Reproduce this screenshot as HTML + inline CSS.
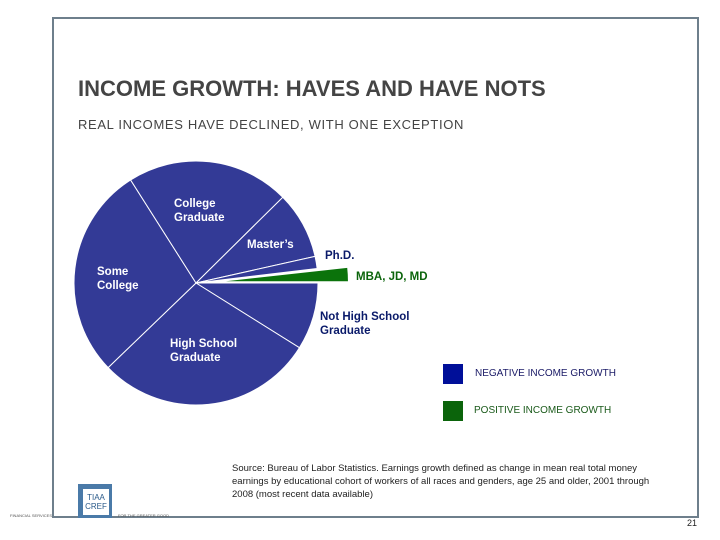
<!DOCTYPE html>
<html><head><meta charset="utf-8"><style>
body{margin:0;width:720px;height:540px;background:#fff;font-family:"Liberation Sans",sans-serif;position:relative;overflow:hidden}
.a{position:absolute;white-space:nowrap}
</style></head><body>
<div class="a" style="left:52px;top:17px;width:643px;height:497px;border:2px solid #6e7f8c"></div>
<div class="a" style="left:78px;top:76px;font-size:22px;font-weight:bold;color:#444">INCOME GROWTH: HAVES AND HAVE NOTS</div>
<div class="a" style="left:78px;top:117px;font-size:13px;letter-spacing:0.65px;color:#444">REAL INCOMES HAVE DECLINED, WITH ONE EXCEPTION</div>
<svg id="pie" class="a" style="left:0;top:0" width="720" height="540"></svg>
<div class="a" style="left:443px;top:364px;width:20px;height:20px;background:#000f99"></div>
<div class="a" style="left:475px;top:368px;font-size:10px;color:#1a1a66">NEGATIVE INCOME GROWTH</div>
<div class="a" style="left:443px;top:401px;width:20px;height:20px;background:#0b640b"></div>
<div class="a" style="left:474px;top:405px;font-size:10px;color:#1a5a1a">POSITIVE INCOME GROWTH</div>
<div class="a" style="left:232px;top:462px;font-size:9.5px;line-height:13px;color:#222">Source: Bureau of Labor Statistics. Earnings growth defined as change in mean real total money<br>earnings by educational cohort of workers of all races and genders, age 25 and older, 2001 through<br>2008 (most recent data available)</div>
<div class="a" style="left:78px;top:484px;width:34px;height:34px;background:#4a7aa8"><div class="a" style="left:5px;top:5px;width:26px;height:26px;background:#fff;font-size:8px;color:#2a5a8a;line-height:9px;text-align:center;padding-top:4px;box-sizing:border-box">TIAA<br>CREF</div></div>
<div class="a" style="left:10px;top:513px;font-size:4px;color:#555">FINANCIAL SERVICES</div>
<div class="a" style="left:118px;top:513px;font-size:4px;color:#555">FOR THE GREATER GOOD</div>
<div class="a" style="left:687px;top:518px;font-size:9px;color:#222">21</div>
<script>
const categories=["Not High School Graduate","High School Graduate","Some College","College Graduate","Master's","Ph.D.","MBA, JD, MD"];
const shares=[8.9,28.9,28.2,21.6,8.9,1.6,1.9];
const positive=[false,false,false,false,false,false,true];
const svg=document.getElementById('pie');
const NS='http://www.w3.org/2000/svg';
const cx=196,cy=283,r=122;
const total=shares.reduce((a,b)=>a+b,0);
function ang(v){return v/total*2*Math.PI;}
let a0=0;
shares.forEach((v,i)=>{
  const a1=a0+ang(v);
  let ox=0,oy=0,sa=a0,ea=a1;
  if(positive[i]){const m=(a0+a1)/2;ox=30*Math.cos(m);oy=30*Math.sin(m);sa=a0+0.01;}
  const x0=cx+ox,y0=cy+oy;
  const p=document.createElementNS(NS,'path');
  const large=(ea-sa)>Math.PI?1:0;
  p.setAttribute('d',`M${x0},${y0}L${x0+r*Math.cos(sa)},${y0+r*Math.sin(sa)}A${r},${r} 0 ${large} 1 ${x0+r*Math.cos(ea)},${y0+r*Math.sin(ea)}Z`);
  p.setAttribute('fill',positive[i]?'#0b730b':'#333a96');
  p.setAttribute('stroke','#fff');
  p.setAttribute('stroke-width',positive[i]?'0':'1');
  
  
  svg.appendChild(p);
  a0=a1;
});
const labels=[
 ["Not High School","Graduate",320,320,"#0a1a6a"],
 ["High School","Graduate",170,347,"#fff"],
 ["Some","College",97,275,"#fff"],
 ["College","Graduate",174,207,"#fff"],
 ["Master’s","",247,248,"#fff"],
 ["Ph.D.","",325,259,"#0a1a6a"],
 ["MBA, JD, MD","",356,280,"#0b640b"]];
labels.forEach((l,i)=>{
  const t=document.createElementNS(NS,'text');
  t.setAttribute('x',l[2]);t.setAttribute('y',l[3]);
  t.setAttribute('font-size','11.5');t.setAttribute('font-weight','bold');
  t.setAttribute('font-family','Liberation Sans, sans-serif');t.setAttribute('fill',l[4]);
  
  
  const s1=document.createElementNS(NS,'tspan');s1.setAttribute('x',l[2]);s1.textContent=l[0];t.appendChild(s1);
  if(l[1]){const s2=document.createElementNS(NS,'tspan');s2.setAttribute('x',l[2]);s2.setAttribute('dy','14');s2.textContent=l[1];t.appendChild(s2);}
  svg.appendChild(t);
});
</script>
</body></html>
